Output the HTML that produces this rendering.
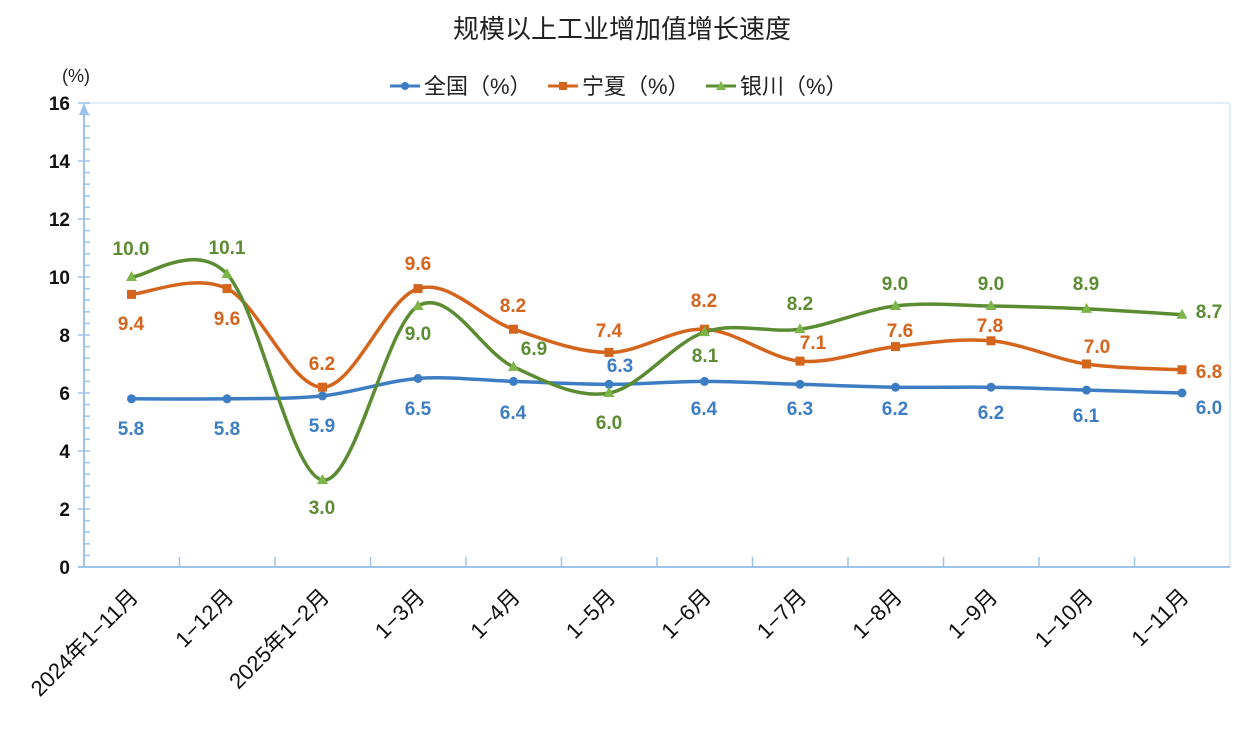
<!DOCTYPE html><html><head><meta charset="utf-8"><style>body{margin:0;background:#fff}svg{display:block}</style></head><body>
<svg width="1244" height="732" viewBox="0 0 1244 732" font-family="Liberation Sans, Noto Sans CJK SC, sans-serif">
<text x="622" y="38" text-anchor="middle" font-size="26" fill="#222">规模以上工业增加值增长速度</text>
<text x="62" y="82" font-size="18" fill="#222">(%)</text>
<g font-size="22" fill="#222">
<line x1="390" y1="86" x2="420" y2="86" stroke="#3C7DC4" stroke-width="3"/><circle cx="405" cy="86" r="4" fill="#3C7DC4"/><text x="424" y="94">全国（%）</text>
<line x1="548" y1="86" x2="578" y2="86" stroke="#D5641C" stroke-width="3"/><rect x="559" y="82" width="8" height="8" fill="#D5641C"/><text x="582" y="94">宁夏（%）</text>
<line x1="706" y1="86" x2="736" y2="86" stroke="#5B8C32" stroke-width="3"/><polygon points="721,81 726,90 716,90" fill="#7DB54A"/><text x="740" y="94">银川（%）</text>
</g>
<line x1="84" y1="103" x2="1230" y2="103" stroke="#e4eef9" stroke-width="2"/>
<line x1="1230" y1="103" x2="1230" y2="567" stroke="#e4eef9" stroke-width="2"/>
<g stroke="#9DC3EA" stroke-width="2">
<line x1="84" y1="105" x2="84" y2="567"/><line x1="78" y1="567" x2="1230" y2="567"/>
<polygon points="84,103 79,115 89,115" fill="#9DC3EA" stroke="none"/>
</g>
<g id="ticks" stroke="#9DC3EA" stroke-width="1.5"></g>
<g font-size="19" font-weight="bold" fill="#111" text-anchor="end">
<text x="70" y="574">0</text><text x="70" y="516">2</text><text x="70" y="458">4</text><text x="70" y="400">6</text><text x="70" y="342">8</text><text x="70" y="284">10</text><text x="70" y="226">12</text><text x="70" y="168">14</text><text x="70" y="110">16</text>
</g>
<g id="xl" font-size="22" fill="#111"></g>
<g id="series"></g>
<g id="labels" font-size="19" font-weight="bold" text-anchor="middle"></g>
</svg>
<script>
const NS="http://www.w3.org/2000/svg";
function el(p,t,a,txt){const e=document.createElementNS(NS,t);for(const k in a)e.setAttribute(k,a[k]);if(txt)e.textContent=txt;document.getElementById(p).appendChild(e);return e}
const X=i=>131.5+95.5*i, Y=v=>567-29*v;
for(let k=1;k<=40;k++){if(k%5==0)el("ticks","line",{x1:78,y1:Y(k*0.4),x2:90,y2:Y(k*0.4)});else el("ticks","line",{x1:84,y1:Y(k*0.4),x2:90,y2:Y(k*0.4)});}
for(let i=1;i<12;i++){const x=84+95.5*i;el("ticks","line",{x1:x,y1:557,x2:x,y2:567});}
const cats=["2024年1−11月","1−12月","2025年1−2月","1−3月","1−4月","1−5月","1−6月","1−7月","1−8月","1−9月","1−10月","1−11月"];
cats.forEach((c,i)=>el("xl","text",{x:0,y:0,"text-anchor":"end",transform:`translate(${X(i)+8},${598}) rotate(-45)`},c));
const S=[
{c:"#3C7DC4",m:"#3C7DC4",t:"c",d:[5.8,5.8,5.9,6.5,6.4,6.3,6.4,6.3,6.2,6.2,6.1,6.0],
L:[[131,428],[227,428],[322,425],[418,408],[513,412],[620,365],[704,408],[800,408],[895,408],[991,412],[1086,415],[1209,407]]},
{c:"#D5641C",m:"#D5641C",t:"s",d:[9.4,9.6,6.2,9.6,8.2,7.4,8.2,7.1,7.6,7.8,7.0,6.8],
L:[[131,323],[227,318],[322,363],[418,263],[513,305],[609,330],[704,300],[813,342],[900,330],[990,325],[1097,346],[1209,371]]},
{c:"#5B8C32",m:"#7DB54A",t:"t",d:[10.0,10.1,3.0,9.0,6.9,6.0,8.1,8.2,9.0,9.0,8.9,8.7],
L:[[131,248],[227,247],[322,507],[418,333],[534,348],[609,422],[705,355],[800,303],[895,283],[991,283],[1086,283],[1209,311]]}];
S.forEach(s=>{const p=s.d.map((v,i)=>[X(i),Y(v)]);let d=`M${p[0]}`;
for(let i=0;i<p.length-1;i++){const p0=p[i-1]||p[i],p1=p[i],p2=p[i+1],p3=p[i+2]||p2;
const c1=[p1[0]+(p2[0]-p0[0])/6,p1[1]+(p2[1]-p0[1])/6],c2=[p2[0]-(p3[0]-p1[0])/6,p2[1]-(p3[1]-p1[1])/6];
d+=` C${c1} ${c2} ${p2}`;}
el("series","path",{d:d,fill:"none",stroke:s.c,"stroke-width":3.5});
p.forEach(q=>{if(s.t=="c")el("series","circle",{cx:q[0],cy:q[1],r:4.5,fill:s.m});
else if(s.t=="s")el("series","rect",{x:q[0]-4.5,y:q[1]-4.5,width:9,height:9,fill:s.m});
else el("series","polygon",{points:`${q[0]},${q[1]-6} ${q[0]+5.5},${q[1]+4} ${q[0]-5.5},${q[1]+4}`,fill:s.m});});
s.L.forEach((l,i)=>el("labels","text",{x:l[0],y:l[1]+7,fill:s.c},s.d[i].toFixed(1)));});
</script>
</body></html>
